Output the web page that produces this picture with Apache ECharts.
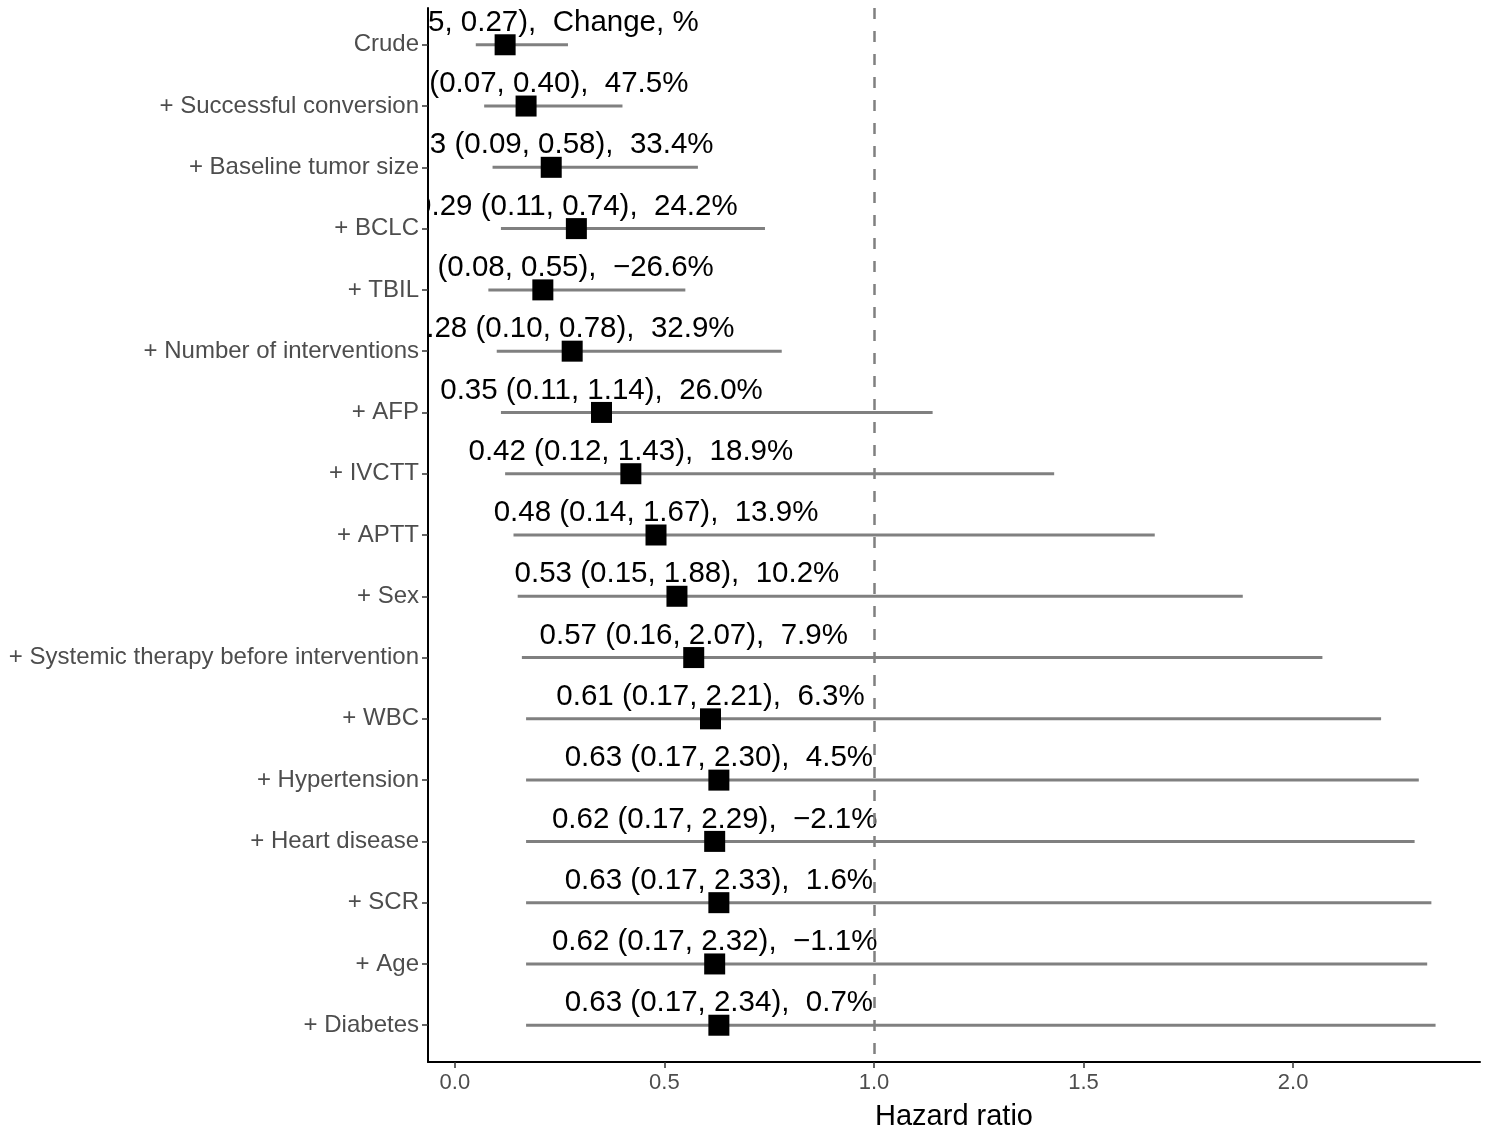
<!DOCTYPE html>
<html>
<head>
<meta charset="utf-8">
<script src="https://cdn.jsdelivr.net/npm/echarts@6/dist/echarts.min.js"></script>
<style>
html,body{margin:0;padding:0;background:#fff;}
#main{width:1492px;height:1132px;}
</style>
</head>
<body>
<div id="main"></div>
<script>
var categories = ['Crude', '+ Successful conversion', '+ Baseline tumor size', '+ BCLC', '+ TBIL',
    '+ Number of interventions', '+ AFP', '+ IVCTT', '+ APTT', '+ Sex',
    '+ Systemic therapy before intervention', '+ WBC', '+ Hypertension', '+ Heart disease',
    '+ SCR', '+ Age', '+ Diabetes'];
var hr = [0.12, 0.17, 0.23, 0.29, 0.21, 0.28, 0.35, 0.42, 0.48, 0.53, 0.57, 0.61, 0.63, 0.62, 0.63, 0.62, 0.63];
var lower = [0.05, 0.07, 0.09, 0.11, 0.08, 0.10, 0.11, 0.12, 0.14, 0.15, 0.16, 0.17, 0.17, 0.17, 0.17, 0.17, 0.17];
var upper = [0.27, 0.40, 0.58, 0.74, 0.55, 0.78, 1.14, 1.43, 1.67, 1.88, 2.07, 2.21, 2.30, 2.29, 2.33, 2.32, 2.34];
var change = [null, 47.5, 33.4, 24.2, -26.6, 32.9, 26.0, 18.9, 13.9, 10.2, 7.9, 6.3, 4.5, -2.1, 1.6, -1.1, 0.7];
var xTicks = [0, 0.5, 1.0, 1.5, 2.0];

var FONT = '"Liberation Sans", Arial, sans-serif';

// 标签文字
var labels = [];
for (var i = 0; i < hr.length; i++) {
    var c = change[i] == null ? 'Change, %' : (change[i] < 0 ? '\u2212' + Math.abs(change[i]).toFixed(1) : change[i].toFixed(1)) + '%';
    labels[i] = hr[i].toFixed(2) + ' (' + lower[i].toFixed(2) + ', ' + upper[i].toFixed(2) + '),  ' + c;
}

var pointData = [], barData = [], textData = [], yIdx = [];
for (var i = 0; i < hr.length; i++) {
    yIdx[i] = i;
    pointData.push([hr[i], i]);
    barData.push([lower[i], upper[i], i]);
    textData.push([hr[i], i]);
}

var myChart = echarts.init(document.getElementById('main'));
var option = {
    animation: false,
    grid: {left: 428, right: 12, top: 8, bottom: 70, containLabel: false, outerBoundsMode: 'none'},
    xAxis: {
        type: 'value',
        min: -0.064,
        max: 2.446,
        name: 'Hazard ratio',
        nameLocation: 'middle',
        nameGap: 40,
        nameTextStyle: {color: '#000', fontSize: 29, fontFamily: FONT},
        axisLine: {show: true, onZero: false, lineStyle: {color: '#000', width: 2}},
        axisTick: {show: true, length: 6, customValues: xTicks, lineStyle: {color: '#333', width: 1.5}},
        axisLabel: {
            customValues: xTicks, color: '#4d4d4d', fontSize: 22, fontFamily: FONT, margin: 10,
            formatter: function (v) { return v.toFixed(1); }
        },
        splitLine: {show: false}
    },
    yAxis: {
        type: 'value',
        inverse: true,
        min: -0.6,
        max: 16.6,
        axisLine: {show: true, onZero: false, lineStyle: {color: '#000', width: 2}},
        axisTick: {show: true, length: 6, customValues: yIdx, lineStyle: {color: '#333', width: 1.5}},
        axisLabel: {
            customValues: yIdx, color: '#4d4d4d', fontSize: 24, fontFamily: FONT, margin: 9,
            formatter: function (v) { return categories[Math.round(v)]; }
        },
        splitLine: {show: false}
    },
    series: [
        {
            // 文字标签
            type: 'custom',
            clip: true,
            z: 1,
            data: textData,
            renderItem: function (params, api) {
                var p = api.coord([api.value(0), api.value(1)]);
                return {
                    type: 'text',
                    x: p[0],
                    y: p[1] - 22,
                    style: {
                        text: labels[params.dataIndex],
                        fill: '#000',
                        fontSize: 29.5,
                        fontFamily: FONT,
                        align: 'center',
                        verticalAlign: 'middle'
                    }
                };
            }
        },
        {
            // 置信区间
            type: 'custom',
            clip: true,
            z: 2,
            data: barData,
            renderItem: function (params, api) {
                var a = api.coord([api.value(0), api.value(2)]);
                var b = api.coord([api.value(1), api.value(2)]);
                return {
                    type: 'line',
                    shape: {x1: a[0], y1: a[1], x2: b[0], y2: b[1]},
                    style: {stroke: '#808080', lineWidth: 3}
                };
            }
        },
        {
            type: 'scatter',
            z: 3,
            symbol: 'rect',
            symbolSize: 21,
            itemStyle: {color: '#000', opacity: 1},
            data: pointData,
            markLine: {
                silent: true,
                symbol: 'none',
                label: {show: false},
                lineStyle: {color: '#808080', type: [11, 12], width: 2.5},
                data: [{xAxis: 1}]
            }
        }
    ]
};
myChart.setOption(option);
</script>
</body>
</html>
